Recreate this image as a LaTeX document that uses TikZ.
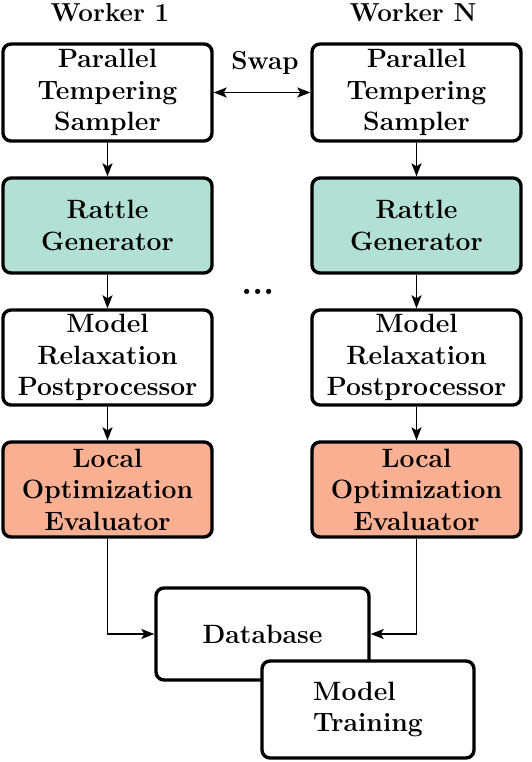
\documentclass[tikz,border=0pt]{standalone}
\usepackage{fontspec}
\usetikzlibrary{arrows.meta}
\definecolor{tealfill}{HTML}{B2E0D4}
\definecolor{salmonfill}{HTML}{F9AF91}
\begin{document}
\begin{tikzpicture}[x=1pt,y=-1pt,
  box/.style={draw=black,line width=3.4pt,rounded corners=8pt,fill=white,
    minimum width=209pt,minimum height=97pt,inner sep=0pt,align=center,
    font=\bfseries\fontsize{26.5}{31.5}\selectfont},
  lbl/.style={font=\bfseries\fontsize{26}{31.5}\selectfont,inner sep=0pt},
  conn/.style={line width=1.9pt,-{Stealth[length=13pt,width=10pt,inset=3pt]}},
]
\useasboundingbox (0,0) rectangle (532,762);
\node[lbl] (w1) at (110,13) {Worker 1};
\node[lbl] (wn) at (413,13) {Worker N};
\node[box] (pt1) at (107.5,92.5) {Parallel\\Tempering\\Sampler};
\node[box] (ptn) at (416.5,92.5) {Parallel\\Tempering\\Sampler};
\node[box,fill=tealfill,minimum height=95pt] (rg1) at (107.5,225.5) {Rattle\\Generator};
\node[box,fill=tealfill,minimum height=95pt] (rgn) at (416.5,225.5) {Rattle\\Generator};
\node[box,minimum height=95pt] (mr1) at (107.5,357.5) {Model\\Relaxation\\Postprocessor};
\node[box,minimum height=95pt] (mrn) at (416.5,357.5) {Model\\Relaxation\\Postprocessor};
\node[box,fill=salmonfill,minimum height=95pt] (lo1) at (107.5,489.5) {Local\\Optimization\\Evaluator};
\node[box,fill=salmonfill,minimum height=95pt] (lon) at (416.5,489.5) {Local\\Optimization\\Evaluator};
\node[lbl] (swap) at (265,63) {Swap};
\node[lbl,font=\bfseries\fontsize{36}{40}\selectfont] (dots) at (258,292) {...};
\node[box,minimum width=213pt,minimum height=92pt] (db) at (262.5,634) {Database};
\node[box,minimum width=212pt,minimum height=97pt,align=left] (mt) at (368,709.5) {Model\\Training};
\draw[conn,{Stealth[length=13pt,width=10pt,inset=3pt]}-{Stealth[length=13pt,width=10pt,inset=3pt]}] (pt1.east) -- (ptn.west);
\draw[conn] (pt1) -- (rg1);
\draw[conn] (ptn) -- (rgn);
\draw[conn] (rg1) -- (mr1);
\draw[conn] (rgn) -- (mrn);
\draw[conn] (mr1) -- (lo1);
\draw[conn] (mrn) -- (lon);
\draw[conn] (lo1.south) |- (db.west);
\draw[conn] (lon.south) |- (db.east);
\end{tikzpicture}
\end{document}
